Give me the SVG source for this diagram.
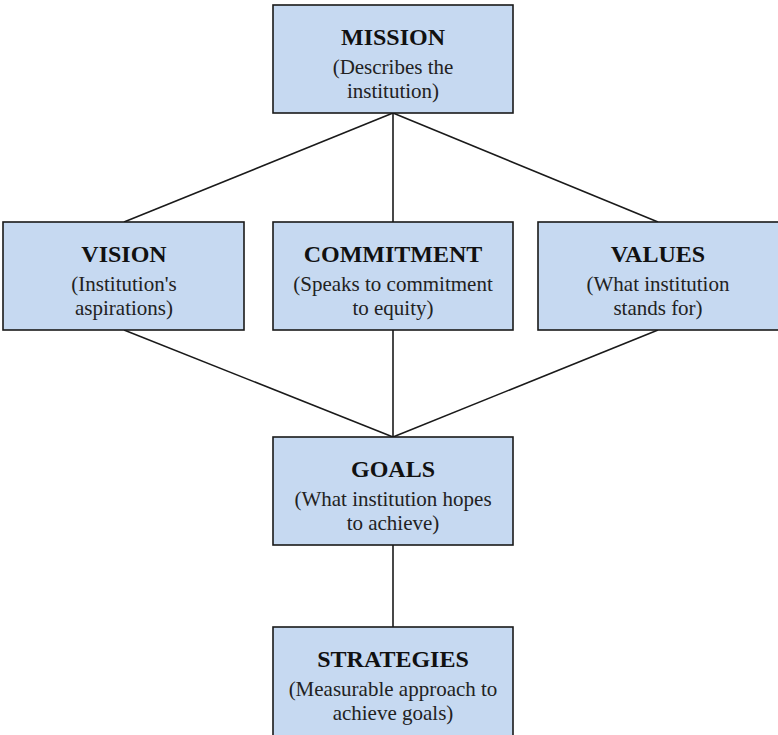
<svg xmlns="http://www.w3.org/2000/svg" width="778" height="735" viewBox="0 0 778 735">
<style>
.box{fill:#c6d9f1;stroke:#1a1a1a;stroke-width:1.6}
.t{font-family:"Liberation Serif",serif;font-weight:bold;font-size:24px;fill:#111;text-anchor:middle}
.s{font-family:"Liberation Serif",serif;font-size:21px;fill:#222;text-anchor:middle}
.c{stroke:#1a1a1a;stroke-width:1.6;fill:none}
</style>
<rect width="778" height="735" fill="#fff"/>
<g id="connectors">
<line class="c" x1="393" y1="113" x2="124" y2="222"/>
<line class="c" x1="393" y1="113" x2="393" y2="222"/>
<line class="c" x1="393" y1="113" x2="658" y2="222"/>
<line class="c" x1="124" y1="330" x2="393" y2="437"/>
<line class="c" x1="393" y1="330" x2="393" y2="437"/>
<line class="c" x1="658" y1="330" x2="393" y2="437"/>
<line class="c" x1="393" y1="545" x2="393" y2="627"/>
</g>
<g id="mission">
<rect class="box" x="273" y="5" width="240" height="108"/>
<text class="t" x="393" y="45">MISSION</text>
<text class="s" x="393" y="74">(Describes the</text>
<text class="s" x="393" y="98">institution)</text>
</g>
<g id="vision">
<rect class="box" x="3" y="222" width="241" height="108"/>
<text class="t" x="124" y="262">VISION</text>
<text class="s" x="124" y="291">(Institution's</text>
<text class="s" x="124" y="315">aspirations)</text>
</g>
<g id="commitment">
<rect class="box" x="273" y="222" width="240" height="108"/>
<text class="t" x="393" y="262">COMMITMENT</text>
<text class="s" x="393" y="291">(Speaks to commitment</text>
<text class="s" x="393" y="315">to equity)</text>
</g>
<g id="values">
<rect class="box" x="538" y="222" width="242" height="108"/>
<text class="t" x="658" y="262">VALUES</text>
<text class="s" x="658" y="291">(What institution</text>
<text class="s" x="658" y="315">stands for)</text>
</g>
<g id="goals">
<rect class="box" x="273" y="437" width="240" height="108"/>
<text class="t" x="393" y="477">GOALS</text>
<text class="s" x="393" y="506">(What institution hopes</text>
<text class="s" x="393" y="530">to achieve)</text>
</g>
<g id="strategies">
<rect class="box" x="273" y="627" width="240" height="112"/>
<text class="t" x="393" y="667">STRATEGIES</text>
<text class="s" x="393" y="696">(Measurable approach to</text>
<text class="s" x="393" y="720">achieve goals)</text>
</g>
</svg>
